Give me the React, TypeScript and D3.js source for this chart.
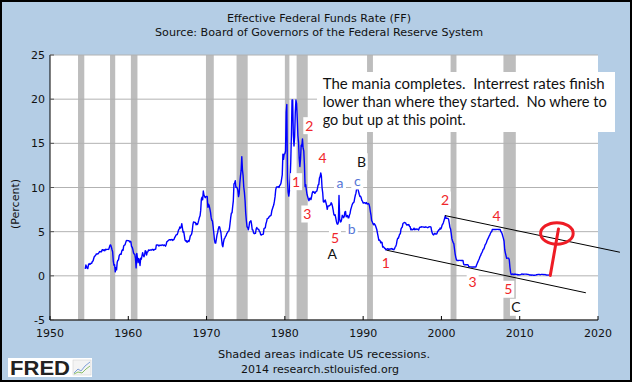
import React from 'react';
import * as d3 from 'd3';

// ---------- DATA ----------
// Effective Federal Funds Rate, monthly, starting July 1954
const ffStartYear = 1954.5;
const ff1950s = [
  0.80, 1.22, 1.06, 0.85, 0.83, 1.28,
  1.39, 1.29, 1.35, 1.43, 1.43, 1.64, 1.68, 1.96, 2.18, 2.24, 2.35, 2.48,
  2.45, 2.50, 2.50, 2.62, 2.75, 2.71, 2.75, 2.73, 2.95, 2.96, 2.88, 2.94,
  2.84, 3.00, 2.96, 3.00, 3.00, 3.00, 2.99, 3.24, 3.47, 3.50, 3.28, 2.98,
  2.72, 1.67, 1.20, 1.26, 0.45, 0.93, 0.68, 1.53, 1.76, 1.80, 2.27, 2.42,
  2.48, 2.43, 2.80, 2.96, 2.90, 3.39, 3.47, 3.50, 3.76, 3.98, 4.00, 3.99,
];
const ff1960s = [
  3.99, 3.97, 3.84, 3.92, 3.85, 3.32, 3.23, 2.98, 2.60, 2.47, 2.44, 1.98,
  0.90, 2.54, 2.02, 1.49, 1.98, 1.73, 1.17, 2.00, 1.88, 2.26, 2.62, 2.33,
  2.15, 2.37, 2.85, 2.78, 2.36, 2.68, 2.71, 2.93, 2.90, 2.90, 2.94, 2.93,
  2.92, 3.00, 2.98, 2.90, 3.00, 2.99, 3.02, 3.49, 3.48, 3.50, 3.48, 3.38,
  3.48, 3.48, 3.43, 3.47, 3.50, 3.50, 3.42, 3.50, 3.45, 3.36, 3.52, 3.85,
  3.90, 3.98, 4.04, 4.09, 4.10, 4.04, 4.09, 4.12, 4.01, 4.08, 4.10, 4.32,
  4.42, 4.60, 4.65, 4.67, 4.90, 5.17, 5.30, 5.53, 5.40, 5.53, 5.90, 5.40,
  4.94, 5.00, 4.53, 4.05, 3.94, 3.98, 3.79, 3.90, 3.99, 3.88, 4.13, 4.51,
  4.60, 4.71, 5.05, 5.76, 6.11, 6.07, 6.03, 6.03, 5.78, 5.91, 5.82, 6.02,
  6.30, 6.61, 6.79, 7.41, 8.67, 8.90, 8.61, 9.60, 9.15, 9.00, 8.85, 8.97,
];
const ff1970s = [
  8.98, 8.98, 7.76, 8.10, 7.95, 7.61, 7.21, 6.61, 6.29, 6.20, 5.60, 4.90,
  4.14, 3.72, 3.71, 4.16, 4.63, 4.91, 5.31, 5.57, 5.55, 5.20, 4.91, 4.14,
  3.50, 3.29, 3.83, 4.17, 4.27, 4.46, 4.55, 4.80, 4.87, 5.04, 5.06, 5.33,
  5.94, 6.58, 7.09, 7.12, 7.84, 8.49, 10.40, 10.50, 10.78, 10.01, 10.03, 9.95,
  9.65, 8.97, 9.35, 10.51, 11.31, 11.93, 13.50, 12.01, 11.34, 10.06, 9.45, 8.53,
  7.13, 6.24, 5.54, 5.49, 5.22, 5.55, 6.10, 6.14, 6.24, 5.82, 5.22, 5.20,
  4.87, 4.77, 4.84, 4.82, 5.29, 5.48, 5.31, 5.29, 5.25, 5.02, 4.95, 4.65,
  4.61, 4.68, 4.69, 4.73, 5.35, 5.39, 5.42, 5.90, 6.14, 6.47, 6.51, 6.56,
  6.70, 6.78, 6.79, 6.89, 7.36, 7.60, 7.81, 8.04, 8.45, 8.96, 9.76, 10.03,
  10.07, 10.06, 10.09, 10.01, 10.24, 10.29, 10.47, 10.94, 11.43, 13.77, 13.18, 13.78,
];
const ff1980s = [
  13.82, 14.13, 18.50, 19.40, 10.98, 9.47, 9.03, 9.61, 10.87, 12.81, 15.85, 19.90,
  19.90, 15.93, 14.70, 15.72, 18.52, 19.90, 19.50, 17.82, 15.87, 15.08, 13.31, 12.37,
  13.22, 14.78, 14.68, 15.50, 14.45, 14.15, 12.59, 10.12, 10.31, 9.71, 9.20, 8.95,
  8.68, 8.51, 8.77, 8.80, 8.63, 8.98, 9.37, 9.56, 9.45, 9.48, 9.34, 9.47,
  9.56, 9.59, 9.91, 10.29, 10.32, 11.06, 11.23, 11.64, 11.30, 9.99, 9.43, 8.38,
  8.35, 8.50, 8.58, 8.27, 7.97, 7.53, 7.88, 7.90, 7.92, 7.99, 8.05, 8.27,
  8.14, 7.86, 7.48, 6.99, 6.85, 6.92, 6.56, 6.17, 5.89, 5.85, 6.04, 9.10,
  6.43, 6.10, 6.13, 6.37, 6.85, 6.73, 6.58, 6.73, 7.22, 7.29, 6.69, 6.77,
  6.83, 6.58, 6.58, 6.87, 7.09, 7.51, 7.75, 8.01, 8.19, 8.30, 8.35, 8.76,
  9.12, 9.36, 9.85, 9.84, 9.81, 9.53, 9.24, 8.99, 9.02, 8.84, 8.55, 8.45,
];
const ff1990s = [
  8.23, 8.24, 8.28, 8.26, 8.18, 8.29, 8.15, 8.13, 8.20, 8.11, 7.81, 7.31,
  6.91, 6.25, 6.12, 5.91, 5.78, 5.90, 5.82, 5.66, 5.45, 5.21, 4.81, 4.43,
  4.03, 4.06, 3.98, 3.73, 3.82, 3.76, 3.25, 3.30, 3.22, 3.10, 3.09, 2.92,
  3.02, 3.03, 3.07, 2.96, 3.00, 3.04, 3.06, 3.03, 3.09, 2.99, 3.02, 2.96,
  3.05, 3.25, 3.34, 3.56, 4.01, 4.25, 4.26, 4.47, 4.73, 4.76, 5.29, 5.45,
  5.53, 5.92, 5.98, 6.05, 6.01, 6.00, 5.85, 5.74, 5.80, 5.76, 5.80, 5.60,
  5.56, 5.22, 5.31, 5.22, 5.24, 5.27, 5.40, 5.22, 5.30, 5.24, 5.31, 5.29,
  5.25, 5.19, 5.39, 5.51, 5.50, 5.56, 5.52, 5.54, 5.54, 5.50, 5.52, 5.50,
  5.56, 5.51, 5.49, 5.45, 5.49, 5.56, 5.54, 5.55, 5.51, 5.07, 4.83, 4.68,
  4.63, 4.76, 4.81, 4.74, 4.74, 4.76, 4.99, 5.07, 5.22, 5.20, 5.42, 5.30,
];
const ff2000s = [
  5.45, 5.73, 5.85, 6.02, 6.27, 6.53, 6.80, 6.50, 6.52, 6.51, 6.51, 6.40,
  5.98, 5.49, 5.31, 4.80, 4.21, 3.97, 3.77, 3.65, 3.07, 2.49, 2.09, 1.82,
  1.73, 1.74, 1.73, 1.75, 1.75, 1.75, 1.73, 1.74, 1.75, 1.75, 1.34, 1.24,
  1.24, 1.26, 1.25, 1.26, 1.26, 1.22, 1.01, 1.03, 1.01, 1.01, 1.00, 0.98,
  1.00, 1.01, 1.00, 1.00, 1.00, 1.03, 1.26, 1.43, 1.61, 1.76, 1.93, 2.16,
  2.28, 2.50, 2.63, 2.79, 3.00, 3.04, 3.26, 3.50, 3.62, 3.78, 4.00, 4.16,
  4.29, 4.49, 4.59, 4.79, 4.94, 4.99, 5.24, 5.25, 5.25, 5.25, 5.25, 5.24,
  5.25, 5.26, 5.26, 5.25, 5.25, 5.25, 5.26, 5.02, 4.94, 4.76, 4.49, 4.24,
  3.94, 2.98, 2.61, 2.28, 1.98, 2.00, 2.01, 2.00, 1.81, 0.97, 0.39, 0.16,
  0.15, 0.22, 0.18, 0.15, 0.18, 0.21, 0.16, 0.16, 0.15, 0.12, 0.12, 0.12,
];
const ff2010s = [
  0.11, 0.13, 0.16, 0.20, 0.20, 0.18, 0.18, 0.19, 0.19, 0.19, 0.19, 0.18,
  0.17, 0.16, 0.14, 0.10, 0.09, 0.09, 0.07, 0.10, 0.08, 0.07, 0.08, 0.07,
  0.08, 0.10, 0.13, 0.14, 0.16, 0.16, 0.16, 0.13, 0.14, 0.16, 0.16, 0.16,
  0.14, 0.15, 0.14, 0.15, 0.11, 0.09, 0.09, 0.08, 0.08, 0.09, 0.08, 0.09,
];

// NBER recessions [start, end] in decimal years
const recessions: [number, number][] = [
  [1953.58, 1954.38], [1957.67, 1958.33], [1960.33, 1961.17], [1969.92, 1970.92],
  [1973.83, 1975.25], [1980.0, 1980.58], [1981.5, 1982.92], [1990.5, 1991.25],
  [2001.17, 2001.92], [2007.92, 2009.5],
];

const xTicks = [1950, 1960, 1970, 1980, 1990, 2000, 2010, 2020];
const yTicks = [-5, 0, 5, 10, 15, 20, 25];

// Elliott wave labels: [text, year, value, kind]
const waveLabels: [string, number, number, string][] = [
  ['2', 1983.12, 17.0, 'red'],
  ['1', 1981.44, 10.66, 'red'],
  ['4', 1984.83, 13.37, 'red'],
  ['3', 1982.87, 7.0, 'red'],
  ['5', 1986.4, 4.32, 'red'],
  ['A', 1986.06, 2.47, 'black'],
  ['a', 1987.04, 10.54, 'blue'],
  ['b', 1988.54, 5.27, 'blue'],
  ['c', 1989.25, 10.74, 'blue'],
  ['B', 1989.81, 12.92, 'black'],
  ['1', 1992.88, 1.42, 'red'],
  ['2', 2000.45, 8.58, 'red'],
  ['4', 2007.05, 6.77, 'red'],
  ['3', 2003.99, -0.73, 'red'],
  ['5', 2008.54, -1.52, 'red'],
  ['C', 2009.52, -3.56, 'black'],
];

// Trend channel lines [year, value] -> [year, value]
const channelUpper: [number, number][] = [[2000.45, 6.82], [2022.8, 2.67]];
const channelLower: [number, number][] = [[1993.0, 2.9], [2018.45, -1.92]];
const redArrow: [number, number][] = [[2013.9, 0.05], [2014.95, 5.3]];
const redCircle = { year: 2014.75, value: 4.8, rYears: 2.08, rValue: 1.22 };

const noteLines = [
  'The mania completes.  Interrest rates finish',
  'lower than where they started.  No where to',
  'go but up at this point.',
];

const titleLines = ['Effective Federal Funds Rate (FF)', 'Source: Board of Governors of the Federal Reserve System'];
const footerLines = ['Shaded areas indicate US recessions.', '2014 research.stlouisfed.org'];

// ---------- CHART ----------
const W = 632;
const H = 382;
const plot = { left: 50, right: 598, top: 55, bottom: 320 };

const labelColors: Record<string, string> = { red: '#F0262B', blue: '#5676D6', black: '#111111' };

export default function App() {
  const x = d3.scaleLinear().domain([1950, 2020]).range([plot.left, plot.right]);
  const y = d3.scaleLinear().domain([-5, 25]).range([plot.bottom, plot.top]);

  const series = [...ff1950s, ...ff1960s, ...ff1970s, ...ff1980s, ...ff1990s, ...ff2000s, ...ff2010s];
  const points: [number, number][] = series.map((v, i) => [ffStartYear + i / 12, v]);
  const line = d3.line<[number, number]>().x((d) => x(d[0])).y((d) => y(d[1]));
  const seg = d3.line<[number, number]>().x((d) => x(d[0])).y((d) => y(d[1]));

  const sansFont = "'DejaVu Sans', Verdana, sans-serif";
  const noteFont = "Lato, 'Open Sans', sans-serif";

  return (
    <svg width={634} height={383} style={{ display: 'block', position: 'absolute', left: 0, top: 0 }}>
      <rect x={1} y={1} width={W - 2} height={H - 2} fill="#B4CDE5" stroke="#000" strokeWidth={2} />
      {/* plot background */}
      <rect x={plot.left} y={plot.top} width={plot.right - plot.left} height={plot.bottom - plot.top} fill="#fff" />
      {/* recessions */}
      {recessions.map(([a, b], i) => (
        <rect key={'r' + i} x={x(a)} y={plot.top} width={x(b) - x(a)} height={plot.bottom - plot.top} fill="#BDBDBD" />
      ))}
      {/* grid */}
      {yTicks.map((t) => (
        <line key={'g' + t} x1={plot.left} x2={plot.right} y1={y(t)} y2={y(t)} stroke="#B2B2B2" strokeWidth={1} />
      ))}
      {/* axes */}
      <line x1={plot.left} x2={plot.left} y1={plot.top} y2={plot.bottom} stroke="#000" strokeWidth={1} />
      <line x1={plot.left} x2={plot.right} y1={plot.bottom} y2={plot.bottom} stroke="#000" strokeWidth={1} />
      {yTicks.map((t) => (
        <g key={'yt' + t}>
          <line x1={plot.left} x2={plot.left + 4} y1={y(t)} y2={y(t)} stroke="#555" />
          <text x={45} y={y(t) + 4} textAnchor="end" fontFamily={sansFont} fontSize={11} fill="#111">
            {t}
          </text>
        </g>
      ))}
      {xTicks.map((t) => (
        <g key={'xt' + t}>
          <line x1={x(t)} x2={x(t)} y1={plot.bottom} y2={plot.bottom - 4} stroke="#000" />
          <text x={x(t)} y={337} textAnchor="middle" fontFamily={sansFont} fontSize={11} fill="#111">
            {t}
          </text>
        </g>
      ))}
      <text
        transform={`translate(19,204) rotate(-90)`}
        textAnchor="middle"
        fontFamily={sansFont}
        fontSize={11}
        fill="#111"
      >
        (Percent)
      </text>
      {/* data line */}
      <path d={line(points) || ''} fill="none" stroke="#0000FF" strokeWidth={1.4} strokeLinejoin="round" />
      {/* channel lines */}
      <path d={seg(channelUpper) || ''} stroke="#000" strokeWidth={1} fill="none" />
      <path d={seg(channelLower) || ''} stroke="#000" strokeWidth={1} fill="none" />
      {/* red arrow and circle */}
      <path d={seg(redArrow) || ''} stroke="#EE1C25" strokeWidth={3} fill="none" strokeLinecap="round" />
      <ellipse
        cx={x(redCircle.year)}
        cy={y(redCircle.value)}
        rx={x(redCircle.year + redCircle.rYears) - x(redCircle.year)}
        ry={y(redCircle.value) - y(redCircle.value + redCircle.rValue)}
        fill="none"
        stroke="#EE1C25"
        strokeWidth={3}
      />
      {/* wave labels */}
      {waveLabels.map(([txt, yr, v, kind], i) => (
        <g key={'wl' + i}>
          <rect x={x(yr) - 6} y={y(v) - 8.5} width={12} height={17} fill="#fff" />
          <text
            x={x(yr)}
            y={y(v) + 5}
            textAnchor="middle"
            fontFamily={noteFont}
            fontSize={14}
            fill={labelColors[kind]}
          >
            {txt}
          </text>
        </g>
      ))}
      {/* note box */}
      <rect x={317} y={72} width={298} height={60} fill="#fff" />
      {noteLines.map((l, i) => (
        <text
          key={'n' + i}
          x={322.7}
          y={88.5 + i * 18.3}
          fontFamily={noteFont}
          fontSize={14.5}
          fill="#111"
          style={{ whiteSpace: 'pre' }}
          textLength={[282, 284, 143][i]}
          lengthAdjust="spacingAndGlyphs"
        >
          {l}
        </text>
      ))}
      {/* titles */}
      {titleLines.map((l, i) => (
        <text
          key={'t' + i}
          x={319}
          y={22 + i * 13.5}
          textAnchor="middle"
          fontFamily={sansFont}
          fontSize={11}
          fill="#111"
          textLength={[184, 328][i]}
          lengthAdjust="spacingAndGlyphs"
        >
          {l}
        </text>
      ))}
      {/* footer */}
      {footerLines.map((l, i) => (
        <text
          key={'f' + i}
          x={324 - i * 4}
          y={358 + i * 15}
          textAnchor="middle"
          fontFamily={sansFont}
          fontSize={11}
          fill="#111"
          textLength={[212, 158][i]}
          lengthAdjust="spacingAndGlyphs"
        >
          {l}
        </text>
      ))}
      {/* FRED logo */}
      <rect x={8} y={358} width={84} height={19} fill="#fff" />
      <text x={10} y={375} fontFamily="'Liberation Sans', Arial, sans-serif" fontWeight={900} fontSize={20} fill="#222" textLength={60} lengthAdjust="spacingAndGlyphs">
        FRED
      </text>
      <rect x={73} y={360} width={18} height={15} fill="#F4F4F4" stroke="#CCCCCC" strokeWidth={0.5} />
      <polyline points="74,373 78,369 81,371 85,366 90,362" fill="none" stroke="#7FA0D8" strokeWidth={1} />
      <polyline points="74,374 78,372 82,373 86,369 90,366" fill="none" stroke="#8CC06A" strokeWidth={1} />
    </svg>
  );
}
